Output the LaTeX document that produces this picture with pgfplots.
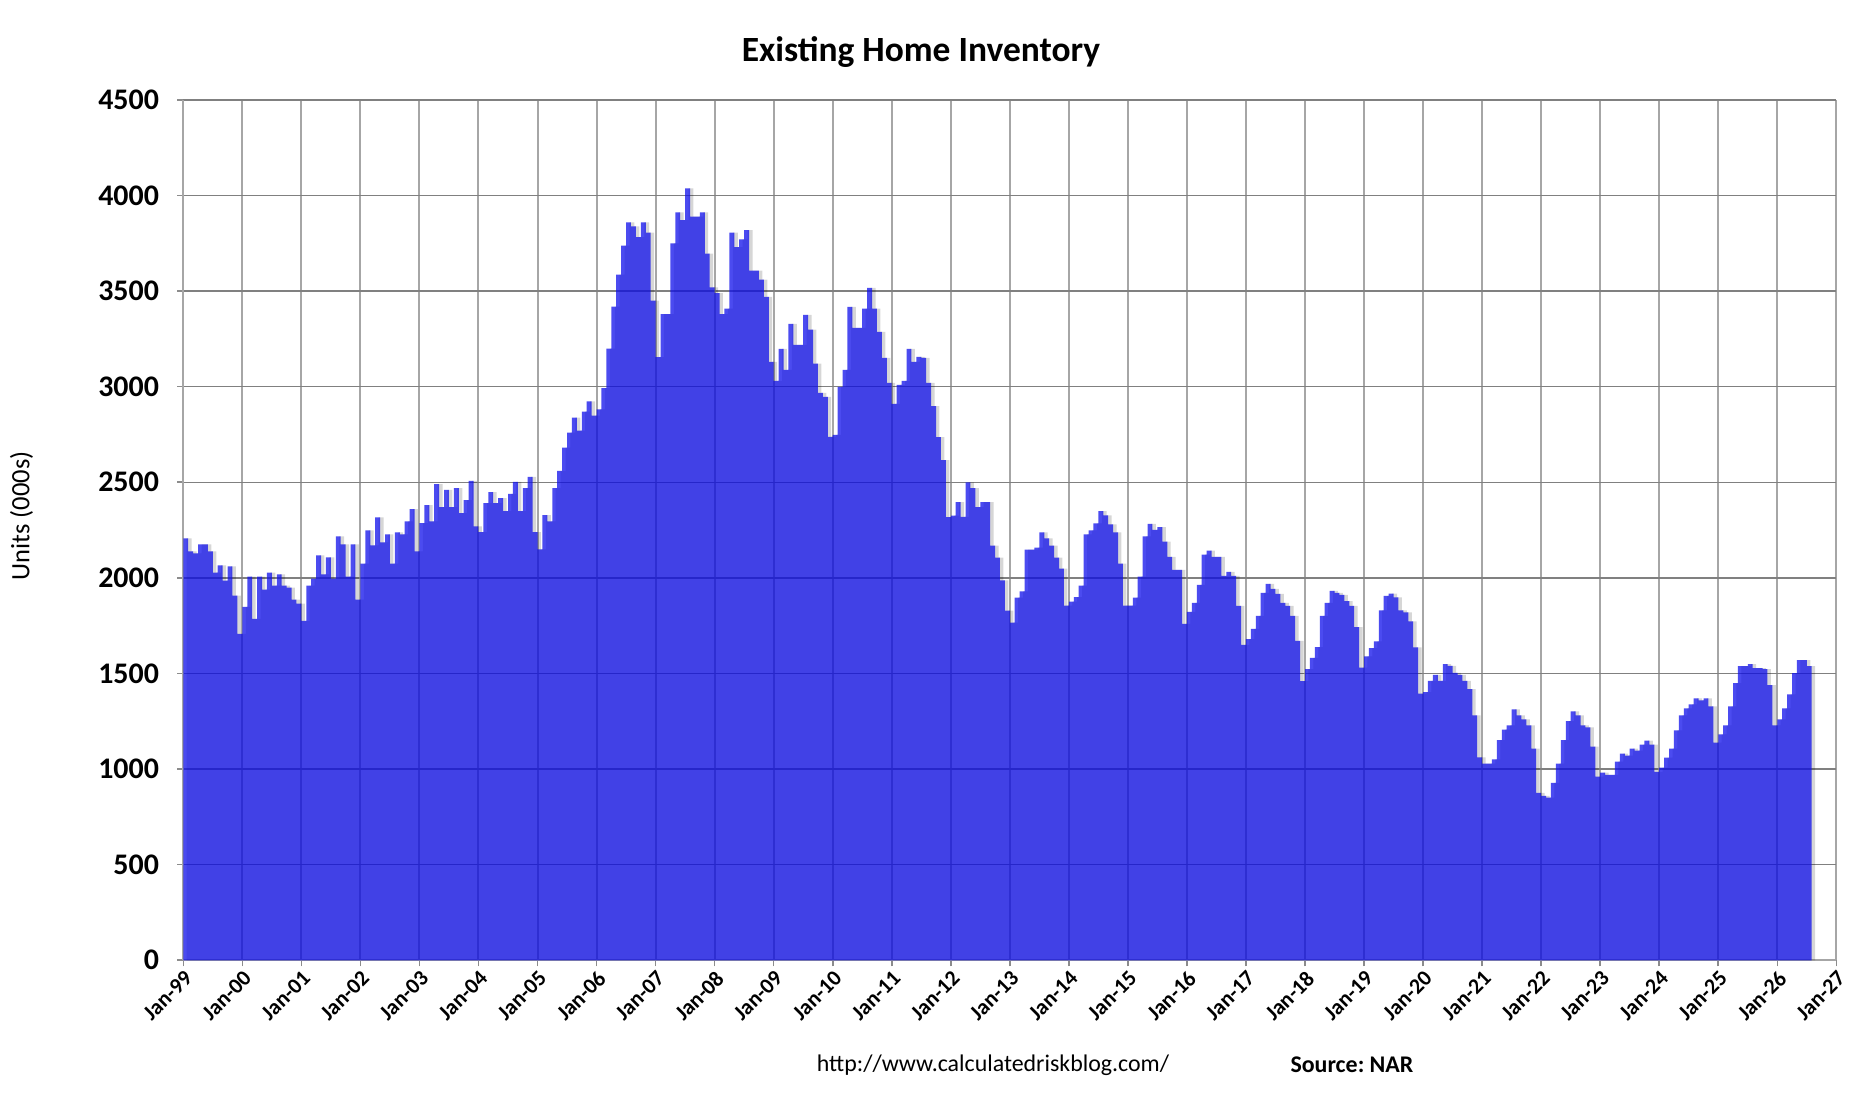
\documentclass[border=0pt]{standalone}
\usepackage{fontspec}
\setmainfont{Carlito}
\usepackage{pgfplots}
\usepackage{pgfplotstable}
\pgfplotsset{compat=1.18}
\definecolor{barblue}{RGB}{15,15,235}

\pgfplotstableread[row sep=\\]{
v\\
2207\\2139\\2128\\2175\\2175\\2139\\2028\\2065\\1986\\2060\\1907\\1707\\
1849\\2007\\1786\\2007\\1939\\2028\\1960\\2018\\1960\\1949\\1886\\1865\\
1775\\1960\\1996\\2118\\2018\\2107\\1996\\2217\\2175\\2007\\2175\\1886\\
2075\\2249\\2170\\2317\\2186\\2228\\2075\\2238\\2228\\2296\\2360\\2139\\
2286\\2381\\2296\\2491\\2370\\2460\\2370\\2470\\2339\\2407\\2507\\2270\\
2239\\2391\\2449\\2391\\2417\\2349\\2439\\2502\\2349\\2470\\2528\\2239\\
2149\\2328\\2296\\2470\\2560\\2681\\2760\\2838\\2770\\2870\\2923\\2849\\
2881\\2993\\3199\\3419\\3586\\3738\\3859\\3838\\3782\\3859\\3806\\3450\\
3154\\3379\\3379\\3749\\3911\\3871\\4037\\3890\\3890\\3911\\3696\\3520\\
3489\\3379\\3408\\3806\\3730\\3771\\3819\\3607\\3607\\3560\\3470\\3130\\
3031\\3198\\3088\\3329\\3219\\3219\\3376\\3298\\3120\\2968\\2947\\2738\\
2748\\2999\\3088\\3418\\3308\\3308\\3408\\3517\\3408\\3287\\3151\\3020\\
2910\\3010\\3031\\3198\\3130\\3156\\3151\\3020\\2898\\2736\\2616\\2318\\
2326\\2396\\2319\\2500\\2470\\2370\\2396\\2396\\2169\\2106\\1987\\1829\\
1766\\1897\\1929\\2148\\2148\\2158\\2238\\2206\\2169\\2106\\2048\\1855\\
1876\\1900\\1959\\2227\\2248\\2285\\2349\\2327\\2280\\2238\\2074\\1855\\
1855\\1897\\2006\\2217\\2282\\2251\\2266\\2189\\2110\\2042\\2042\\1759\\
1822\\1869\\1963\\2121\\2142\\2110\\2110\\2011\\2032\\2011\\1853\\1649\\
1680\\1733\\1801\\1921\\1969\\1942\\1916\\1869\\1853\\1801\\1670\\1460\\
1523\\1581\\1638\\1801\\1869\\1932\\1921\\1911\\1879\\1853\\1743\\1530\\
1590\\1632\\1668\\1830\\1906\\1918\\1898\\1830\\1819\\1773\\1637\\1395\\
1403\\1461\\1493\\1461\\1549\\1540\\1503\\1493\\1461\\1418\\1281\\1061\\
1028\\1028\\1051\\1151\\1207\\1228\\1312\\1281\\1260\\1228\\1107\\876\\
860\\851\\928\\1028\\1151\\1251\\1302\\1281\\1228\\1218\\1118\\960\\
981\\970\\970\\1039\\1081\\1070\\1107\\1097\\1128\\1149\\1128\\986\\
1007\\1060\\1107\\1202\\1281\\1318\\1339\\1370\\1360\\1370\\1328\\1139\\
1181\\1228\\1328\\1449\\1539\\1539\\1549\\1528\\1528\\1523\\1439\\1228\\
1260\\1318\\1391\\1502\\1570\\1570\\1539\\1539\\
}\inv

\begin{document}
\begin{tikzpicture}[x=1bp,y=1bp]
\path[use as bounding box] (0,0) rectangle (931,548);
\begin{axis}[
  at={(91.65bp,67.85bp)}, anchor=south west,
  scale only axis, width=826.5bp, height=430.2bp,
  xmin=0, xmax=336, ymin=0, ymax=4500,
  xtick={0,12,...,336},
  xticklabels={Jan-99,Jan-00,Jan-01,Jan-02,Jan-03,Jan-04,Jan-05,Jan-06,Jan-07,Jan-08,Jan-09,Jan-10,Jan-11,Jan-12,Jan-13,Jan-14,Jan-15,Jan-16,Jan-17,Jan-18,Jan-19,Jan-20,Jan-21,Jan-22,Jan-23,Jan-24,Jan-25,Jan-26,Jan-27},
  ytick={0,500,...,4500},
  axis x line*=bottom, axis y line*=left,
  axis line style={draw=black!35, line width=1bp},
  tick align=outside, major tick length=3bp,
  tick style={draw=black!45, line width=0.8bp},
  xmajorgrids, ymajorgrids,
  major x grid style={draw=black!35, line width=1bp},
  major y grid style={draw=black!50, line width=0.65bp},
  /pgf/number format/assume math mode=true,
  /pgf/number format/1000 sep={},
  yticklabel style={font=\bfseries\fontsize{15}{15}\selectfont, inner sep=1bp, xshift=-8bp},
  xticklabel style={font=\bfseries\fontsize{11}{11}\selectfont, rotate=45, anchor=north east, inner sep=1bp},
]
\addplot[draw=none, fill=black, fill opacity=0.16, const plot mark left] table[x expr=\coordindex+0.7, y index=0] {\inv} \closedcycle;
\addplot[draw=none, fill=barblue, fill opacity=0.75, const plot mark left] table[x expr=\coordindex, y index=0] {\inv} \closedcycle;
\end{axis}
\node[font=\bfseries\fontsize{17.8}{17.8}\selectfont] at (460.5,522) {Existing Home Inventory};
\node[rotate=90, font=\fontsize{13.3}{13.3}\selectfont] at (10.7,290) {Units (000s)};
\node[font=\fontsize{12}{12}\selectfont] at (496.5,15.5) {http://www.calculatedriskblog.com/};
\node[font=\bfseries\fontsize{12}{12}\selectfont] at (676,15.5) {Source:\ NAR};
\end{tikzpicture}
\end{document}
